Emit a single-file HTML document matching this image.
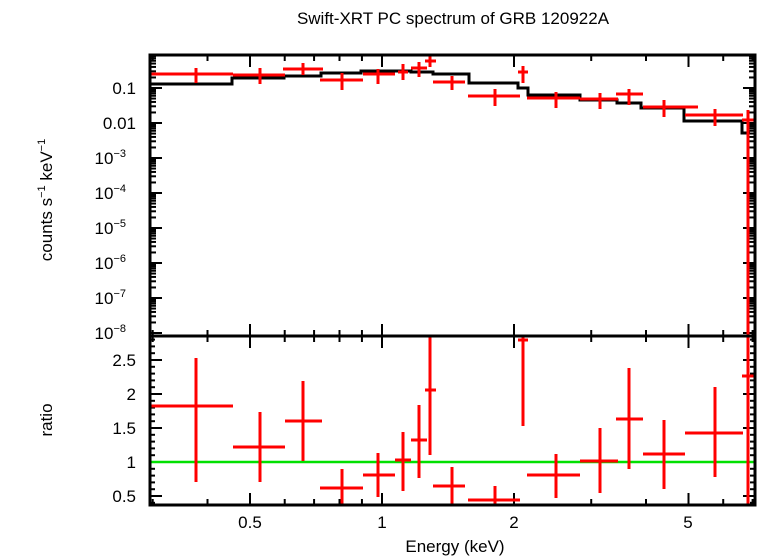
<!DOCTYPE html><html><head><style>body{margin:0;background:#fff}svg{display:block}text{font-family:"Liberation Sans",sans-serif;font-size:17px}</style></head><body>
<svg width="758" height="556" viewBox="0 0 758 556" xmlns="http://www.w3.org/2000/svg">
<rect width="758" height="556" fill="#fff"/>
<text x="453" y="24" text-anchor="middle">Swift-XRT PC spectrum of GRB 120922A</text>
<g id="ticks" stroke="#000" stroke-width="2"></g>
<g fill="none" stroke="#000" stroke-width="3">
<path d="M150 84H232V78H284V76H321V73H361V71H411V72H433V74H469V83H518V88H528V95H580V100H617V103H641V108H684V121H742V133H750"/>
</g>
<line x1="150" y1="462" x2="755" y2="462" stroke="#00e000" stroke-width="2.5"/>
<g id="red" stroke="#f00" stroke-width="3"></g>
<rect x="150" y="55" width="605" height="450" fill="none" stroke="#000" stroke-width="3"/>
<line x1="150" y1="336" x2="755" y2="336" stroke="#000" stroke-width="3"/>
<g text-anchor="end">
<text x="136" y="94">0.1</text><text x="136" y="129">0.01</text>
<text x="126" y="164">10<tspan font-size="11" dy="-7">−3</tspan></text>
<text x="126" y="199">10<tspan font-size="11" dy="-7">−4</tspan></text>
<text x="126" y="234">10<tspan font-size="11" dy="-7">−5</tspan></text>
<text x="126" y="269">10<tspan font-size="11" dy="-7">−6</tspan></text>
<text x="126" y="304">10<tspan font-size="11" dy="-7">−7</tspan></text>
<text x="126" y="339">10<tspan font-size="11" dy="-7">−8</tspan></text>
<text x="136" y="366">2.5</text><text x="136" y="400">2</text><text x="136" y="434">1.5</text><text x="136" y="468">1</text><text x="136" y="502">0.5</text>
</g>
<g text-anchor="middle">
<text x="250" y="528">0.5</text><text x="382" y="528">1</text><text x="514" y="528">2</text><text x="688" y="528">5</text>
<text x="455" y="552">Energy (keV)</text>
</g>
<text transform="translate(52,200) rotate(-90)" text-anchor="middle">counts s<tspan font-size="11" dy="-7">−1</tspan><tspan dy="7"> keV</tspan><tspan font-size="11" dy="-7">−1</tspan></text>
<text transform="translate(52,420) rotate(-90)" text-anchor="middle">ratio</text>
<script>
(function(){
var ns="http://www.w3.org/2000/svg";
function L(g,x1,y1,x2,y2){var l=document.createElementNS(ns,"line");l.setAttribute("x1",x1);l.setAttribute("y1",y1);l.setAttribute("x2",x2);l.setAttribute("y2",y2);g.appendChild(l);}
var r=document.getElementById("red");
var dTop=[[150,233,74,196,68,83],[233,285,75,260,68,84],[283,323,69,303,63,75],[320,363,80,342,73,90],[363,395,74,378,69,84],[398,408,72,403,64,80],[411,427,68,419,62,77],[425,436,61,430,55,67],[433,465,82,452,76,90],[468,520,96,495,89,106],[518,528,72,523,66,83],[527,580,98,556,92,108],[580,618,99,600,93,109],[616,643,94,629,89,105],[643,698,107,664,100,117],[685,743,115,715,109,126],[742,757,120,748,110,336]];
var dBot=[[150,233,406,196,358,482],[233,285,447,260,412,482],[285,322,421,303,381,461],[320,363,488,342,469,505],[363,395,475,378,453,497],[395,411,460,403,432,491],[411,427,440,419,405,478],[425,436,390,430,336,455],[433,465,486,452,467,505],[468,520,500,495,486,505],[518,528,340,523,336,426],[527,580,475,556,454,498],[580,618,461,600,428,493],[616,643,419,629,368,469],[643,685,454,664,420,489],[685,743,433,715,387,477],[742,757,376,748,336,505]];
dTop.concat(dBot).forEach(function(d){L(r,d[0],d[2],Math.min(d[1],754),d[2]);L(r,d[3],d[4],d[3],d[5]);});
var t=document.getElementById("ticks");
function X(e){return 382+438.5*Math.log10(e);}
[0.3,0.4,0.5,0.6,0.7,0.8,0.9,1,2,3,4,5,6,7].forEach(function(e){var x=X(e);var big=[0.5,1,2,5].indexOf(e)>=0?12:6;
L(t,x,55,x,55+big);L(t,x,505,x,505-big);L(t,x,336-big,x,336+big);});
for(var k=0;k<8;k++){var y=88+35*k;L(t,150,y,162,y);L(t,755,y,743,y);}
for(var k=-1;k<8;k++){var y=88+35*k;for(var m=2;m<10;m++){var yy=y-35*Math.log10(m);if(yy>56&&yy<335){L(t,150,yy,156,yy);L(t,755,yy,749,yy);}}}
for(var v=0.5;v<=2.85;v+=0.5){var y=462-68*(v-1);L(t,150,y,162,y);L(t,755,y,743,y);}
for(var v=0.4;v<=2.85;v+=0.1){var y=462-68*(v-1);L(t,150,y,155,y);L(t,755,y,750,y);}
})();
</script>
</svg></body></html>
